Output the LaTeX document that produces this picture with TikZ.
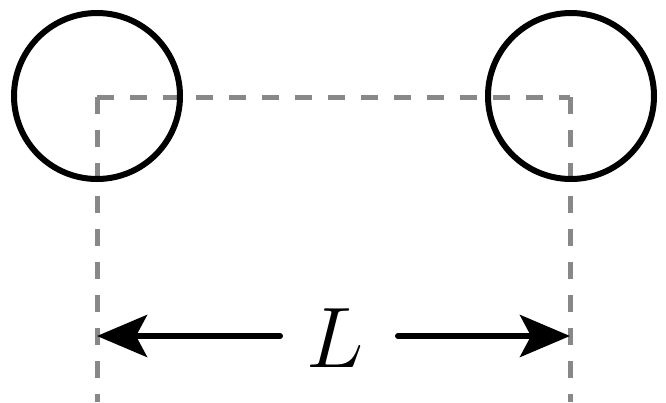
\RequirePackage{fix-cm}
\documentclass[tikz,border=0pt]{standalone}
\usetikzlibrary{arrows.meta}
\definecolor{dashgray}{RGB}{136,136,136}
\begin{document}
\begin{tikzpicture}[x=1pt,y=-1pt,
  ring/.style={draw=black,line width=6pt,circle,minimum size=166pt,inner sep=0pt},
  guide/.style={draw=dashgray,line width=5pt,dash pattern=on 16.5pt off 16.5pt},
  dimarrow/.style={draw=black,line width=6pt,line cap=round,-{Stealth[length=50pt,width=42pt,inset=11pt]}}]
\useasboundingbox (0,0) rectangle (666,402);
\coordinate (A) at (97,97);
\coordinate (B) at (570,97);
\coordinate (Abot) at (97,402);
\coordinate (Bbot) at (570,402);
\coordinate (tipL) at (97,336);
\coordinate (tipR) at (570,336);
\coordinate (startL) at (280,336);
\coordinate (startR) at (398,336);
\draw[guide] (A) -- (B);
\draw[guide] (A) -- (Abot);
\draw[guide] (B) -- (Bbot);
\node[ring] (c1) at (97,96) {};
\node[ring] (c2) at (571,96) {};
\node[inner sep=0pt] (lab) at (335,338) {\fontsize{86}{86}\selectfont $L$};
\draw[dimarrow] (startL) -- (tipL);
\draw[dimarrow] (startR) -- (tipR);
\end{tikzpicture}
\end{document}
